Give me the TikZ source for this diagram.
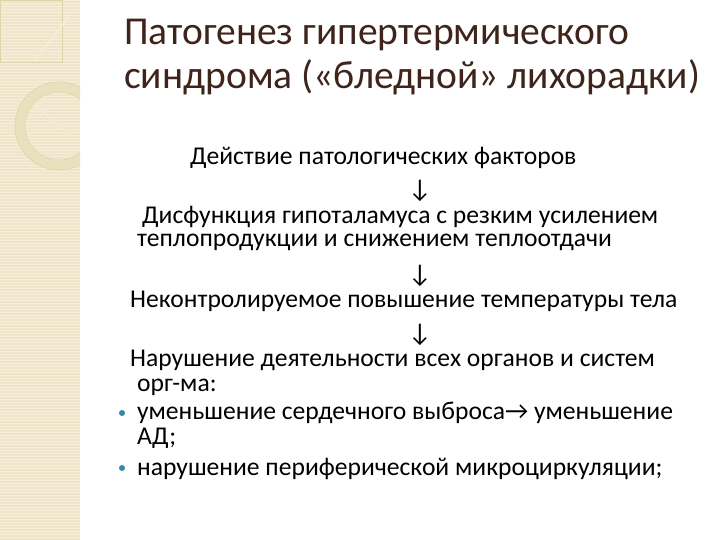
\documentclass[tikz,border=0pt]{standalone}
\usepackage{fontspec}
\setmainfont{Carlito}
\usetikzlibrary{arrows.meta}
\definecolor{titlec}{RGB}{62,36,26}
\definecolor{panel}{RGB}{238,229,202}
\definecolor{stripe}{RGB}{244,238,218}
\definecolor{ringc}{RGB}{233,224,190}
\definecolor{ringline}{RGB}{222,211,170}
\definecolor{bulletc}{RGB}{52,138,165}
\tikzset{
  title/.style={anchor=base west, inner sep=0pt, text=titlec, font=\fontsize{39.5}{44}\selectfont},
  body/.style={anchor=base west, inner sep=0pt, text height=16pt, text depth=4.5pt, text=black, font=\fontsize{25.6}{28}\selectfont},
  downarrow/.style={anchor=base, inner sep=0pt, text height=17pt, text depth=1pt, text=black, font=\fontsize{25.6}{28}\selectfont},
  bulletdot/.style={circle, fill=bulletc, inner sep=0pt, minimum size=6pt}
}
\begin{document}
\begin{tikzpicture}[x=1pt,y=-1pt]
\useasboundingbox (0,0) rectangle (720,540);
\fill[white] (0,0) rectangle (720,540);
% left decorative panel
\fill[panel] (0,0) rectangle (80,540);
\foreach \yy in {0,3,...,540} {\draw[stripe, line width=0.8pt] (0,\yy) -- (80,\yy);}
\begin{scope}
  \clip (0,0) rectangle (80,540);
  \draw[ringline, line width=0.8pt] (0,0) rectangle (62,62);
  \draw[ringline, line width=0.8pt] (63,0) arc[start angle=0, end angle=-70, radius=62];
  \draw[stripe, line width=1.5pt] (35,60) -- (70,15);
  \fill[ringc, even odd rule] (59,126) circle[radius=44] (59,126) circle[radius=34];
  \draw[ringline, line width=0.6pt] (59,126) circle[radius=44] (59,126) circle[radius=34];
  \draw[stripe, line width=1pt] (35,105) -- (75,140);
\end{scope}
% title
\node[title] (t1) at (124,45) {Патогенез гипертермического};
\node[title] (t2) at (124,89) {синдрома («бледной» лихорадки)};
% body
\node[body] (l1) at (190,165) {Действие патологических факторов};
\node[downarrow] (a1) at (420,197) {↓};
\node[body] (l2a) at (142,223) {Дисфункция гипоталамуса с резким усилением};
\node[body] (l2b) at (137,246) {теплопродукции и снижением теплоотдачи};
\node[downarrow] (a2) at (420,282) {↓};
\node[body] (l3) at (130,307) {Неконтролируемое повышение температуры тела};
\node[downarrow] (a3) at (420,341) {↓};
\node[body] (l4a) at (130,366) {Нарушение деятельности всех органов и систем};
\node[body] (l4b) at (137,391) {орг-ма:};
\node[bulletdot] (b1) at (122,413) {};
\node[body] (l5a) at (137,419) {уменьшение сердечного выброса→ уменьшение};
\node[body] (l5b) at (137,444) {АД;};
\node[bulletdot] (b2) at (122,468) {};
\node[body] (l6) at (137,475) {нарушение периферической микроциркуляции;};
\end{tikzpicture}
\end{document}
